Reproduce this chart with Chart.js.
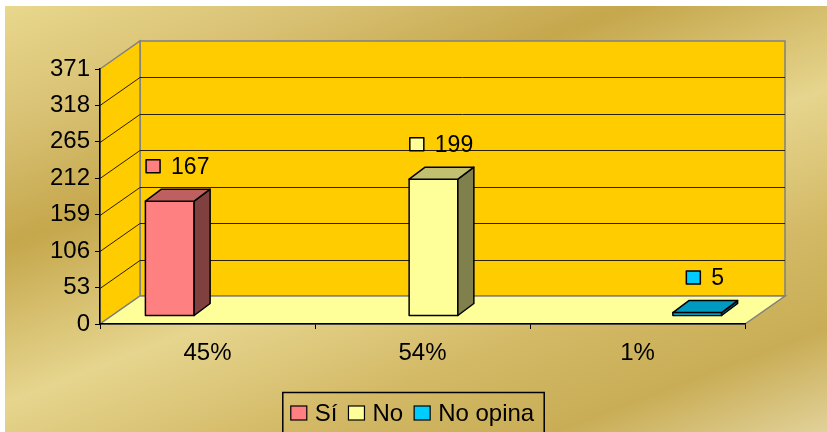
<!DOCTYPE html>
<html>
<head>
<meta charset="utf-8">
<script src="https://cdn.jsdelivr.net/npm/chart.js@4"></script>
<style>
    body { margin: 0; background: #fff; }
    #wrap { width: 827px; height: 432px; }
</style>
</head>
<body>
<div id="wrap"><canvas id="surveyChart" width="827" height="432"></canvas></div>
<script>
const categories = ['45%', '54%', '1%'];
const seriesNames = ['Sí', 'No', 'No opina'];
const siValues = [167, null, null];
const noValues = [null, 199, null];
const noOpinaValues = [null, null, 5];
const yMax = 371;
const yStep = 53;

// front / side / top colours for each series
const faceColors = [
    ['#FF8080', '#804040', '#BF6060'],
    ['#FFFF99', '#80804C', '#C0C070'],
    ['#00CCFF', '#006680', '#0099BF']
];

const FONT = '"Liberation Sans", Arial, sans-serif';
const DX = 40, DY = -28;     // depth of the walls
const BX = 11, BY = -8;      // where the bars sit in depth
const SX = 16, SY = -12;     // depth of a bar

const scene3d = {
    id: 'scene3d',
    beforeDraw(chart) {
        const ctx = chart.ctx;
        const area = chart.chartArea;
        const y = chart.scales.y;
        ctx.save();
        ctx.fillStyle = '#fff';
        ctx.fillRect(0, 0, chart.width, chart.height);

        const g = ctx.createLinearGradient(0, 0, 250, 654);
        g.addColorStop(0, '#E9D98E');
        g.addColorStop(0.18, '#D8C072');
        g.addColorStop(0.33, '#C5A74C');
        g.addColorStop(0.54, '#E6D58E');
        g.addColorStop(0.72, '#D3B966');
        g.addColorStop(0.86, '#C9AD56');
        g.addColorStop(1, '#E2D29A');
        ctx.fillStyle = g;
        ctx.fillRect(5, 6, chart.width - 5, chart.height - 6);

        const top = y.getPixelForValue(yMax);
        const bottom = y.getPixelForValue(0);

        ctx.lineWidth = 1.5;
        ctx.strokeStyle = '#808080';
        // back wall
        ctx.fillStyle = '#FFCC00';
        ctx.beginPath();
        ctx.rect(area.left + DX, top + DY, area.right - area.left, bottom - top);
        ctx.fill();
        ctx.stroke();
        // left wall
        ctx.beginPath();
        ctx.moveTo(area.left, top);
        ctx.lineTo(area.left + DX, top + DY);
        ctx.lineTo(area.left + DX, bottom + DY);
        ctx.lineTo(area.left, bottom);
        ctx.closePath();
        ctx.fill();
        ctx.stroke();

        // grid lines
        ctx.lineWidth = 1;
        ctx.strokeStyle = '#2a2000';
        for (let v = yStep; v < yMax; v += yStep) {
            const py = Math.round(y.getPixelForValue(v)) + 0.5;
            ctx.beginPath();
            ctx.moveTo(area.left, py);
            ctx.lineTo(area.left + DX, py + DY);
            ctx.lineTo(area.right + DX, py + DY);
            ctx.stroke();
        }

        // floor
        ctx.lineWidth = 1.5;
        ctx.strokeStyle = '#808080';
        ctx.fillStyle = '#FFFF99';
        ctx.beginPath();
        ctx.moveTo(area.left, bottom);
        ctx.lineTo(area.right, bottom);
        ctx.lineTo(area.right + DX, bottom + DY);
        ctx.lineTo(area.left + DX, bottom + DY);
        ctx.closePath();
        ctx.fill();
        ctx.stroke();
        ctx.restore();
    },
    afterDatasetsDraw(chart) {
        const ctx = chart.ctx;
        ctx.save();
        ctx.lineWidth = 1.5;
        ctx.strokeStyle = '#000';
        ctx.lineJoin = 'round';
        chart.data.datasets.forEach((ds, i) => {
            const meta = chart.getDatasetMeta(i);
            const [front, side, topC] = faceColors[i];
            meta.data.forEach((el, j) => {
                if (ds.data[j] == null) return;
                const x0 = el.x - el.width / 2 + BX;
                const x1 = x0 + el.width;
                const yt = el.y + BY;
                const yb = el.base + BY;
                const poly = (pts, fill) => {
                    ctx.beginPath();
                    ctx.moveTo(pts[0][0], pts[0][1]);
                    pts.slice(1).forEach(p => ctx.lineTo(p[0], p[1]));
                    ctx.closePath();
                    ctx.fillStyle = fill;
                    ctx.fill();
                    ctx.stroke();
                };
                poly([[x0, yt], [x1, yt], [x1, yb], [x0, yb]], front);
                poly([[x1, yt], [x1 + SX, yt + SY], [x1 + SX, yb + SY], [x1, yb]], side);
                poly([[x0, yt], [x0 + SX, yt + SY], [x1 + SX, yt + SY], [x1, yt]], topC);

                // value label with legend key
                ctx.font = '23px ' + FONT;
                const txt = String(ds.data[j]);
                const tw = ctx.measureText(txt).width;
                const total = 14 + 11 + tw;
                const cx = (x0 + x1) / 2 + SX / 2;
                const cy = yt - 35;
                const sx = cx - total / 2;
                ctx.fillStyle = front;
                ctx.fillRect(sx, cy - 6.5, 14, 13);
                ctx.strokeRect(sx, cy - 6.5, 14, 13);
                ctx.fillStyle = '#000';
                ctx.textBaseline = 'middle';
                ctx.textAlign = 'left';
                ctx.fillText(txt, sx + 25, cy + 1);
            });
        });
        ctx.restore();
    },
    afterDraw(chart) {
        // legend box at the bottom
        const ctx = chart.ctx;
        ctx.save();
        ctx.font = '24px ' + FONT;
        const widths = seriesNames.map(n => ctx.measureText(n).width);
        let total = 0;
        widths.forEach((w, i) => { total += 16 + 8 + w + (i < widths.length - 1 ? 11 : 0); });
        let x = 412.5 - total / 2;
        const cy = 413;
        ctx.lineWidth = 1.5;
        ctx.strokeStyle = '#000';
        ctx.strokeRect(x - 8, 392.5, total + 18, 45);
        ctx.textBaseline = 'middle';
        seriesNames.forEach((n, i) => {
            ctx.fillStyle = faceColors[i][0];
            ctx.fillRect(x, cy - 7, 16, 14);
            ctx.lineWidth = 1.2;
            ctx.strokeRect(x, cy - 7, 16, 14);
            ctx.fillStyle = '#000';
            ctx.fillText(n, x + 24, cy + 1);
            x += 16 + 8 + widths[i] + 11;
        });
        ctx.restore();
    }
};

const ctx = document.getElementById('surveyChart').getContext('2d');
new Chart(ctx, {
    type: 'bar',
    data: {
        labels: categories,
        datasets: [
            { label: seriesNames[0], data: siValues, backgroundColor: 'rgba(0,0,0,0)' },
            { label: seriesNames[1], data: noValues, backgroundColor: 'rgba(0,0,0,0)' },
            { label: seriesNames[2], data: noOpinaValues, backgroundColor: 'rgba(0,0,0,0)' }
        ]
    },
    plugins: [scene3d],
    options: {
        responsive: false,
        devicePixelRatio: 1,
        animation: false,
        categoryPercentage: 0.68,
        barPercentage: 1,
        layout: { padding: { left: 0, top: 69, right: 82, bottom: 68 } },
        plugins: {
            legend: { display: false },
            tooltip: { enabled: false }
        },
        scales: {
            x: {
                afterFit: (s) => { s.height = 40; },
                grid: { drawOnChartArea: false, tickLength: 5, color: '#000', lineWidth: 1 },
                border: { color: '#000', width: 1.5 },
                ticks: { color: '#000', font: { family: FONT, size: 24 }, padding: 10 }
            },
            y: {
                min: 0,
                max: yMax,
                afterFit: (s) => { s.width = 100; },
                grid: { drawOnChartArea: false, tickLength: 5, color: '#000', lineWidth: 1 },
                border: { color: '#000', width: 1.5 },
                ticks: { stepSize: yStep, color: '#000', font: { family: FONT, size: 24 }, padding: 5 }
            }
        }
    }
});
</script>
</body>
</html>
